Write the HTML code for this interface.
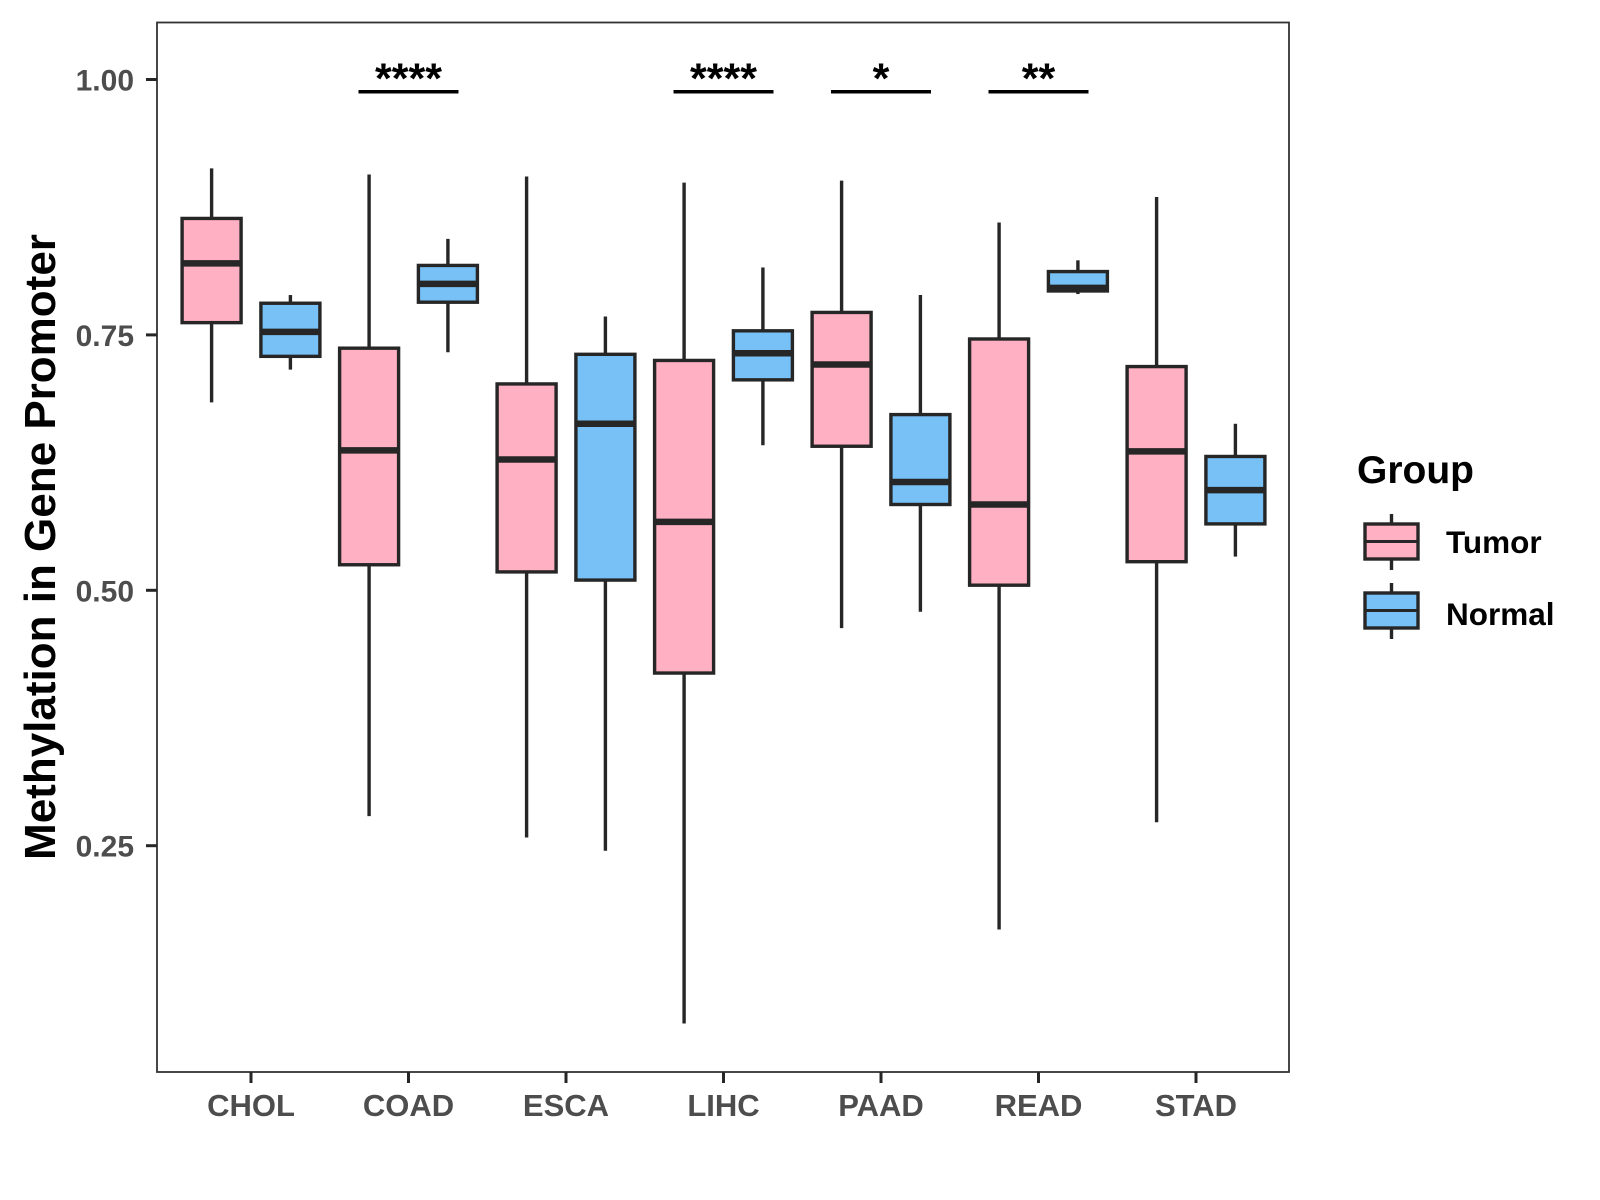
<!DOCTYPE html>
<html><head><meta charset="utf-8"><style>
html,body{margin:0;padding:0;background:#fff;}
svg{display:block;font-family:"Liberation Sans",Arial,sans-serif;}
</style></head><body>
<svg id="chart" width="1600" height="1200" viewBox="0 0 1600 1200">
<rect x="0" y="0" width="1600" height="1200" fill="#fff"/>
<g id="plot"></g>
</svg>
<script>
const categories = ["CHOL","COAD","ESCA","LIHC","PAAD","READ","STAD"];
// [lowerWhisker, q1, median, q3, upperWhisker]
const tumorStats = [
  [0.684,0.762,0.820,0.864,0.913],
  [0.279,0.525,0.637,0.737,0.907],
  [0.258,0.518,0.628,0.702,0.905],
  [0.076,0.419,0.567,0.725,0.899],
  [0.463,0.641,0.721,0.772,0.901],
  [0.168,0.505,0.584,0.746,0.860],
  [0.273,0.528,0.636,0.719,0.885]
];
const normalStats = [
  [0.716,0.729,0.753,0.781,0.789],
  [0.733,0.782,0.800,0.818,0.844],
  [0.245,0.510,0.663,0.731,0.768],
  [0.642,0.706,0.732,0.754,0.816],
  [0.479,0.584,0.606,0.672,0.789],
  [0.790,0.793,0.796,0.812,0.823],
  [0.533,0.565,0.598,0.631,0.663]
];
const yTicks = [0.25,0.50,0.75,1.00];
const yTickLabels = ["0.25","0.50","0.75","1.00"];
const sigCategories = ["COAD","LIHC","PAAD","READ"];
const sigLabels = ["****","****","*","**"];
const sigLevel = 0.988;

const NS="http://www.w3.org/2000/svg";
const g=document.getElementById('plot');
const PL=157, PR=1289, PT=22.5, PB=1072;
function yScale(v){return 79.5+(1-v)*1021.6;}
function xScale(i){return 251+i*157.5;}
function mk(tag,attrs,parent){const e=document.createElementNS(NS,tag);for(const k in attrs)e.setAttribute(k,attrs[k]);(parent||g).appendChild(e);return e;}
const STROKE="#262626";
const SW=3.4;

// panel
const panel=mk('rect',{x:PL,y:PT,width:PR-PL,height:PB-PT,fill:'none',stroke:'#333',"stroke-width":1.8});



// y axis ticks
yTicks.forEach((v,i)=>{
  const y=yScale(v);
  const t=mk('line',{x1:PL-11,x2:PL,y1:y,y2:y,stroke:STROKE,"stroke-width":3});
  
  
  const l=mk('text',{x:134,y:y+11,"text-anchor":"end","font-size":30,"font-weight":"bold",fill:"#4d4d4d"});
  l.textContent=yTickLabels[i];
  
  
});
// x axis
categories.forEach((c,i)=>{
  const x=xScale(i);
  const t=mk('line',{x1:x,x2:x,y1:PB,y2:PB+11,stroke:STROKE,"stroke-width":3});
  
  
  const l=mk('text',{x:x,y:1116,"text-anchor":"middle","font-size":31,"font-weight":"bold",fill:"#4d4d4d"});
  l.textContent=c;
  
  
});

function drawBox(cx,s,fill,name){
  const w=59, grp=mk('g',{});
  
  
  mk('line',{x1:cx,x2:cx,y1:yScale(s[4]),y2:yScale(s[3]),stroke:STROKE,"stroke-width":SW},grp);
  mk('line',{x1:cx,x2:cx,y1:yScale(s[1]),y2:yScale(s[0]),stroke:STROKE,"stroke-width":SW},grp);
  mk('rect',{x:cx-w/2,y:yScale(s[3]),width:w,height:yScale(s[1])-yScale(s[3]),fill:fill,stroke:STROKE,"stroke-width":SW},grp);
  mk('line',{x1:cx-w/2,x2:cx+w/2,y1:yScale(s[2]),y2:yScale(s[2]),stroke:STROKE,"stroke-width":6.5},grp);
}
categories.forEach((c,i)=>{
  drawBox(xScale(i)-39.4,tumorStats[i],'#FFB0C2','box-tumor-'+c.toLowerCase());
  drawBox(xScale(i)+39.4,normalStats[i],'#77C1F7','box-normal-'+c.toLowerCase());
});

// significance
sigCategories.forEach((c,k)=>{
  const i=categories.indexOf(c), x=xScale(i), y=yScale(sigLevel);
  const b=mk('line',{x1:x-50,x2:x+50,y1:y,y2:y,stroke:'#000',"stroke-width":3.5});
  
  
  const t=mk('text',{x:x,y:93,"text-anchor":"middle","font-size":43,"font-weight":"bold",fill:'#000'});
  t.textContent=sigLabels[k];
  
  
});

// y title
const yt=mk('text',{x:0,y:0,transform:'translate(55,547) rotate(-90)',"text-anchor":"middle","font-size":44,"font-weight":"bold",fill:'#000'});
yt.textContent='Methylation in Gene Promoter';



// legend
const lg=mk('g',{});


const lt=mk('text',{x:1357,y:483,"font-size":39,"font-weight":"bold",fill:'#000'},lg);
lt.textContent='Group';


[['Tumor','#FFB0C2',524,553],['Normal','#77C1F7',593,625]].forEach(([lab,col,top,base])=>{
  const e=mk('g',{},lg);
  
  
  const cx=1391.5;
  mk('line',{x1:cx,x2:cx,y1:top-10,y2:top+46,stroke:STROKE,"stroke-width":SW},e);
  mk('rect',{x:1365,y:top,width:53,height:35,fill:col,stroke:STROKE,"stroke-width":SW},e);
  mk('line',{x1:1365,x2:1418,y1:top+17.5,y2:top+17.5,stroke:STROKE,"stroke-width":3},e);
  const tx=mk('text',{x:1446,y:base,"font-size":31.5,"font-weight":"bold",fill:'#000'},e);
  tx.textContent=lab;
  
  
});
</script>
</body></html>
